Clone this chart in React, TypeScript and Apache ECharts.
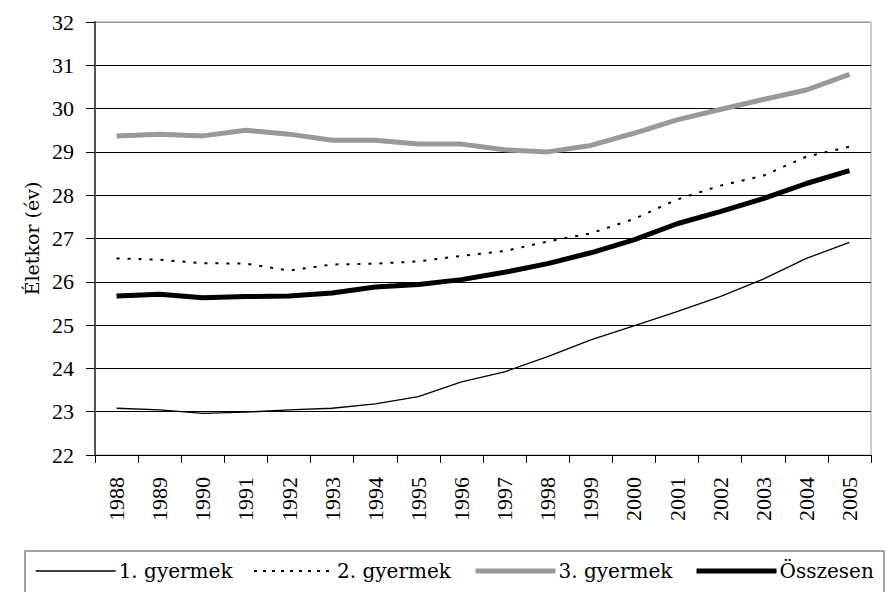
import React, { useEffect, useRef } from "react";
import * as echarts from "echarts";

const years = ["1988","1989","1990","1991","1992","1993","1994","1995","1996","1997","1998","1999","2000","2001","2002","2003","2004","2005"];
const child1 = [23.08,23.04,22.96,22.99,23.04,23.08,23.18,23.35,23.69,23.92,24.27,24.66,24.98,25.31,25.66,26.06,26.54,26.91];
const child2 = [26.54,26.51,26.43,26.42,26.26,26.40,26.42,26.47,26.60,26.71,26.93,27.12,27.45,27.90,28.22,28.45,28.89,29.12];
const child3 = [29.37,29.41,29.37,29.50,29.41,29.27,29.27,29.18,29.18,29.05,29.00,29.15,29.43,29.74,29.98,30.21,30.43,30.79];
const total = [25.67,25.71,25.63,25.66,25.67,25.74,25.88,25.94,26.05,26.22,26.42,26.67,26.97,27.34,27.62,27.92,28.27,28.57];
const seriesNames = ["1. gyermek","2. gyermek","3. gyermek","Összesen"];

const FONT = "Liberation Serif";
const TEXT_FONT = "DejaVu Serif";

export default function App() {
  const ref = useRef<HTMLDivElement>(null);
  useEffect(() => {
    if (!ref.current) return;
    const chart = echarts.init(ref.current, null, { renderer: "svg" });
    const splitColors = Array.from({ length: 11 }, (_, i) => (i === 10 ? "#999" : "#000"));
    const legendLefts = [35, 253, 473, 694];
    const legendLines = [
      { color: "#000", width: 1.3, type: "solid" },
      { color: "#000", width: 2, type: [3, 6] },
      { color: "#999", width: 5, type: "solid" },
      { color: "#000", width: 5, type: "solid" },
    ];
    chart.setOption({
      animation: false,
      backgroundColor: "#fff",
      textStyle: { fontFamily: FONT, color: "#000" },
      grid: { left: 95, right: 16, top: 22, bottom: 137, show: true, borderColor: "#999", borderWidth: 1 },
      xAxis: {
        type: "category",
        data: years,
        boundaryGap: true,
        axisLine: { lineStyle: { color: "#000", width: 1 } },
        axisTick: { show: true, length: 8, lineStyle: { color: "#000" } },
        axisLabel: { rotate: 90, margin: 22, fontSize: 22, fontFamily: FONT, color: "#000" },
      },
      yAxis: {
        type: "value",
        min: 22,
        max: 32,
        interval: 1,
        name: "Életkor (év)",
        nameLocation: "middle",
        nameRotate: 90,
        nameGap: 40,
        nameTextStyle: { fontSize: 19, fontFamily: TEXT_FONT, color: "#000" },
        axisLine: { show: true, lineStyle: { color: "#555", width: 2 } },
        axisTick: { show: true, length: 9, lineStyle: { color: "#000" } },
        axisLabel: { margin: 21, fontSize: 22, fontFamily: FONT, color: "#000" },
        splitLine: { show: true, lineStyle: { color: splitColors, width: 1 } },
      },
      legend: seriesNames.map((n, i) => ({
        data: [n],
        left: legendLefts[i],
        top: 561,
        itemWidth: 80,
        itemHeight: 14,
        itemGap: 0,
        padding: 0,
        itemStyle: { opacity: 0 },
        lineStyle: legendLines[i],
        textStyle: { fontSize: 20, fontFamily: TEXT_FONT, color: "#000", padding: [0, 0, 0, -2] },
      })),
      graphic: [
        {
          type: "rect",
          shape: { x: 25, y: 551, width: 859, height: 60 },
          style: { fill: "none", stroke: "#444", lineWidth: 1 },
          silent: true,
        },
      ],
      series: [
        { name: seriesNames[0], type: "line", data: child1, symbol: "none", lineStyle: { color: "#000", width: 1.3 }, itemStyle: { color: "#000" } },
        { name: seriesNames[1], type: "line", data: child2, symbol: "none", lineStyle: { color: "#000", width: 2, type: [3, 8] }, itemStyle: { color: "#000" } },
        { name: seriesNames[2], type: "line", data: child3, symbol: "none", lineStyle: { color: "#999", width: 5 }, itemStyle: { color: "#999" } },
        { name: seriesNames[3], type: "line", data: total, symbol: "none", lineStyle: { color: "#000", width: 5 }, itemStyle: { color: "#000" } },
      ],
    });
    return () => chart.dispose();
  }, []);
  return <div ref={ref} style={{ width: 887, height: 592, position: "absolute", left: 0, top: 0 }} />;
}
